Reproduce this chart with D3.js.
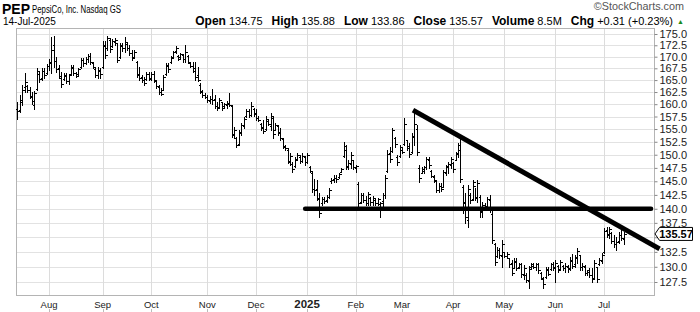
<!DOCTYPE html>
<html>
<head>
<meta charset="utf-8">
<script src="https://cdn.jsdelivr.net/npm/d3@7"></script>
<style>
  body { margin: 0; background: #fff; }
  svg { display: block; font-family: 'Liberation Sans', Arial, sans-serif; }
</style>
</head>
<body>
<div id="chart"></div>
<script>
// daily bars, 15-Jul-2024 .. 14-Jul-2025 (index 0 = first session)
const opens = [
  159.0,158.8,160.5,163.5,163.8,162.9,161.5,159.8,163.2,166.3,
  165.5,166.9,166.5,168.0,168.6,172.5,169.0,167.5,165.5,165.2,
  165.8,164.8,166.3,167.6,166.4,166.2,167.8,169.2,168.7,169.5,
  170.2,168.6,167.4,166.0,167.0,167.8,172.4,171.8,173.6,172.3,
  173.2,173.0,169.9,172.4,172.0,172.7,172.0,170.9,170.0,168.8,
  166.2,165.6,165.0,165.2,166.2,165.3,166.2,164.8,163.6,162.6,
  163.0,166.2,168.0,168.9,170.0,171.2,170.2,169.9,170.3,169.6,
  170.2,168.7,168.0,167.6,166.0,164.0,162.6,161.9,161.4,160.6,
  161.0,161.0,159.6,159.4,160.4,159.6,159.8,160.0,159.6,154.0,
  153.2,152.0,154.4,155.6,157.6,158.6,157.8,159.0,158.2,157.3,
  156.0,155.4,155.0,156.6,155.6,157.2,154.8,155.6,154.4,153.0,
  151.6,151.0,148.6,148.3,147.8,149.2,149.6,148.8,149.5,148.6,
  147.6,146.6,143.6,143.6,141.8,141.0,141.8,141.5,142.2,145.0,
  145.4,145.6,145.8,146.8,149.8,151.0,147.6,148.2,149.0,147.5,
  144.5,141.2,142.5,141.6,141.0,142.0,141.3,141.6,141.0,140.8,
  141.4,142.4,147.0,150.4,150.8,153.2,149.6,149.8,151.0,152.0,
  152.8,151.2,150.6,153.4,155.0,147.5,146.6,147.0,147.6,149.0,
  147.0,145.8,145.0,143.4,144.2,144.0,146.6,147.6,148.0,148.4,
  149.0,150.4,151.0,144.0,141.2,138.0,142.5,141.8,144.2,142.0,
  142.2,139.5,140.6,140.5,141.6,139.0,133.8,131.8,132.8,131.8,
  132.4,131.8,131.4,130.6,129.8,130.8,130.0,130.4,128.6,128.6,
  127.6,130.0,130.2,130.0,130.4,128.9,128.0,128.3,129.4,129.6,
  130.4,130.0,130.2,129.6,130.2,129.8,130.0,129.8,131.0,130.4,
  131.4,132.0,130.0,130.0,129.0,129.4,128.6,128.2,130.0,130.4,
  131.0,132.5,136.2,135.4,135.8,134.4,133.8,134.4,135.4,134.75
];
const highs = [
  160.5,161.9,164.0,166.5,164.0,163.6,162.5,162.7,167.6,166.7,
  167.6,167.6,168.4,169.5,174.3,174.6,169.9,168.2,166.7,166.5,
  166.5,166.3,168.2,168.2,166.7,167.6,169.7,169.7,169.9,170.6,
  170.8,168.9,167.8,167.8,167.6,173.5,173.5,174.6,174.1,173.9,
  174.1,173.0,173.0,173.0,174.3,173.0,172.6,171.5,171.5,169.1,
  167.8,166.1,165.6,166.7,166.7,166.7,166.9,165.0,164.0,163.4,
  166.1,168.7,168.7,170.2,171.3,172.4,170.4,170.8,170.6,172.6,
  170.4,168.9,168.9,168.9,167.8,164.4,162.9,162.3,161.9,161.7,
  163.1,161.9,160.5,161.3,160.5,160.3,160.7,162.3,159.9,155.4,
  153.4,154.8,156.2,157.4,159.0,159.0,160.5,159.2,159.0,157.6,
  156.2,156.8,157.6,156.8,158.2,157.4,156.2,155.8,155.2,153.2,
  151.9,151.3,150.3,148.6,149.6,150.3,149.9,150.3,149.8,150.3,
  147.9,146.7,145.4,145.2,142.8,142.2,142.2,142.5,143.8,145.6,
  146.2,146.2,146.5,147.5,152.5,151.9,149.0,150.5,149.0,148.1,
  144.9,142.8,142.8,142.3,143.0,142.1,142.3,141.9,141.9,141.2,
  142.8,146.2,150.9,151.5,155.2,153.4,149.9,151.9,151.3,157.2,
  152.9,152.3,154.2,158.2,155.8,148.1,147.7,147.9,149.6,149.6,
  147.1,146.2,145.2,144.7,144.7,147.1,148.1,148.6,149.6,148.6,
  150.5,152.3,153.2,144.3,142.8,144.3,142.8,145.2,143.8,145.2,
  142.5,141.2,141.0,142.1,142.5,139.8,134.0,133.3,133.2,134.5,
  132.5,132.5,131.5,131.1,131.5,131.5,130.6,130.6,130.3,129.0,
  130.1,130.6,130.6,130.6,130.6,129.1,128.3,130.0,130.0,130.6,
  130.8,131.1,130.3,131.1,130.3,130.6,130.3,131.6,132.1,132.0,
  133.2,132.0,130.6,130.3,129.5,129.8,129.8,131.1,130.0,131.5,
  132.3,136.6,136.8,136.8,135.9,135.4,135.0,135.9,136.2,135.88
];
const lows = [
  157.0,158.4,159.9,162.5,162.5,161.3,160.1,159.0,162.9,164.6,
  165.0,165.4,166.3,167.1,166.5,167.8,166.7,165.4,163.6,165.0,
  164.4,164.2,166.1,166.1,165.6,166.1,167.6,168.0,168.4,168.9,
  168.4,167.6,165.6,165.4,165.4,167.6,169.7,171.5,171.0,172.1,
  172.6,168.9,169.7,171.3,171.0,171.5,170.4,169.3,169.9,165.6,
  165.0,164.6,164.0,165.0,165.0,165.0,164.6,163.4,162.1,161.9,
  162.9,166.1,166.7,168.7,169.9,170.8,169.3,169.7,168.9,168.9,
  168.7,167.8,166.7,165.0,164.8,162.3,161.5,161.3,160.5,160.3,
  160.0,159.2,158.8,159.2,158.8,159.4,159.2,159.6,153.4,153.2,
  151.5,151.9,153.8,155.2,157.4,157.4,157.6,157.6,156.8,156.6,
  154.8,154.2,154.8,155.8,154.8,153.2,154.8,153.8,152.9,151.3,
  150.9,148.4,148.1,146.7,147.7,149.0,148.4,148.6,148.1,148.4,
  146.7,143.0,142.5,141.6,138.5,140.7,141.0,141.3,141.9,144.7,
  144.9,144.9,145.6,146.7,149.6,147.2,147.2,147.5,147.2,146.7,
  140.3,141.0,141.2,140.7,140.7,140.7,140.7,140.7,140.7,138.5,
  140.5,141.9,146.7,148.7,150.5,151.5,148.1,149.6,150.3,151.9,
  150.9,149.6,150.3,151.9,150.0,144.9,146.5,146.5,147.2,147.5,
  145.8,144.9,143.0,143.0,143.2,144.0,146.2,146.5,147.5,146.7,
  149.0,149.6,144.9,139.2,137.5,136.8,141.0,141.6,141.6,141.2,
  138.5,138.5,140.1,140.3,139.4,134.0,130.3,131.6,131.5,130.0,
  131.6,131.5,130.0,128.6,129.8,129.5,129.8,128.3,128.0,127.5,
  126.5,129.8,129.8,129.5,129.0,128.0,126.5,128.1,128.6,129.5,
  129.5,127.5,129.1,129.5,129.5,129.1,129.1,129.5,129.8,130.0,
  130.6,129.5,129.5,128.6,128.6,128.3,127.5,128.0,127.5,130.3,
  130.6,132.3,135.0,134.9,134.0,133.3,132.8,134.0,134.5,133.86
];
const closes = [
  158.7,160.9,163.0,164.5,162.9,161.7,160.6,162.3,166.9,165.3,
  167.0,166.0,168.0,168.9,171.5,169.0,167.3,165.9,164.2,166.0,
  164.8,166.0,167.8,166.5,165.9,167.3,169.3,168.6,169.6,170.2,
  168.8,167.8,166.0,167.2,166.2,172.6,170.4,174.0,171.6,173.5,
  173.6,169.3,172.6,171.8,173.2,172.0,170.8,169.8,171.0,166.0,
  165.5,165.0,164.4,166.3,165.4,166.2,165.0,163.7,162.5,162.1,
  165.6,168.2,167.4,169.8,171.0,172.0,169.6,170.5,169.5,171.0,
  168.9,168.1,167.0,165.6,165.0,162.7,161.8,161.5,160.8,161.0,
  160.9,159.6,159.2,160.8,159.2,160.0,160.2,159.8,153.8,154.8,
  151.9,154.3,155.8,157.0,158.6,157.8,159.6,158.0,157.2,156.8,
  155.2,154.6,157.0,156.0,157.6,154.0,155.8,154.2,153.2,151.5,
  151.2,148.8,149.8,147.2,149.0,150.0,148.8,149.8,148.6,150.0,
  147.0,143.6,143.4,142.0,139.3,141.8,141.4,142.2,143.4,145.3,
  145.6,145.4,146.3,147.3,151.6,147.8,148.4,150.0,147.6,147.8,
  141.0,142.4,141.6,141.0,142.6,141.2,142.0,141.0,141.7,141.0,
  142.4,145.6,150.2,149.2,154.8,152.0,148.6,151.5,150.6,156.0,
  151.6,150.2,153.6,156.0,150.6,145.6,147.2,147.6,149.2,148.0,
  146.0,145.2,143.4,144.2,143.6,146.8,147.8,148.2,149.2,147.2,
  150.2,151.8,145.5,141.0,138.5,143.6,141.6,144.8,142.2,144.6,
  139.6,140.6,140.3,141.8,140.0,134.5,130.8,132.8,132.0,133.8,
  131.8,132.2,130.4,129.0,131.0,129.8,130.4,128.8,129.8,127.8,
  129.6,130.4,130.0,130.4,129.4,128.2,127.2,129.6,128.8,130.4,
  129.8,130.6,129.5,130.8,129.8,130.2,129.6,131.2,130.2,131.6,
  132.6,130.0,130.2,129.0,129.2,128.6,128.0,130.6,128.0,131.2,
  132.0,136.0,135.6,136.4,134.4,133.8,134.2,135.4,134.9,135.57
];

// first session of each month (bar index) and its label
const monthStarts = [13, 35, 55, 78, 98, 119, 139, 158, 179, 200, 221, 241];
const monthLabels = ['Aug', 'Sep', 'Oct', 'Nov', 'Dec', '2025', 'Feb', 'Mar', 'Apr', 'May', 'Jun', 'Jul'];
const priceTicks = [127.5, 130, 132.5, 135, 137.5, 140, 142.5, 145, 147.5, 150, 152.5, 155,
                    157.5, 160, 162.5, 165, 167.5, 170, 172.5, 175];

// hand drawn trend lines: [bar index, price]
const supportLine = [[118.2, 140.0], [260.3, 140.0]];
const resistanceLine = [[162.5, 158.8], [263.8, 133.0]];

const quote = [['Open', '134.75'], ['High', '135.88'], ['Low', '133.86'], ['Close', '135.57'],
               ['Volume', '8.5M'], ['Chg', '+0.31 (+0.23%)']];

const W = 700, H = 312;
const plot = { left: 16, right: 653.5, top: 28, bottom: 295 };

const bars = closes.map((c, i) => ({ i: i, o: opens[i], h: highs[i], l: lows[i], c: c }));

const x = d3.scaleLinear()
	.domain([-0.57, 261.3])
	.range([plot.left, plot.right]);

const y = d3.scaleLog()
	.domain([175, 127.5])
	.range([34, 282]);

const svg = d3.select('#chart').append('svg')
	.attr('width', W)
	.attr('height', H);

// grid
svg.append('g')
	.selectAll('line').data(priceTicks)
	.enter().append('line')
		.attr('x1', plot.left).attr('x2', plot.right)
		.attr('y1', d => Math.round(y(d)) + 0.5)
		.attr('y2', d => Math.round(y(d)) + 0.5)
		.attr('stroke', '#e2e2e2');

svg.append('g')
	.selectAll('line').data(monthStarts)
	.enter().append('line')
		.attr('x1', d => Math.round(x(d)) + 0.5)
		.attr('x2', d => Math.round(x(d)) + 0.5)
		.attr('y1', plot.top).attr('y2', plot.bottom)
		.attr('stroke', '#dcdcdc');

// frame
svg.append('rect')
	.attr('x', plot.left + 0.5).attr('y', plot.top + 0.5)
	.attr('width', Math.round(plot.right - plot.left))
	.attr('height', plot.bottom - plot.top)
	.attr('fill', 'none')
	.attr('stroke', '#b4b4b4');

// OHLC bars
const px = d => Math.round(x(d)) + 0.5;
const py = v => Math.round(y(v)) + 0.5;

const barG = svg.append('g')
	.attr('stroke', '#000')
	.attr('stroke-width', 1)
	.attr('shape-rendering', 'crispEdges');

const bar = barG.selectAll('g').data(bars).enter().append('g');
bar.append('line')
	.attr('x1', d => px(d.i)).attr('x2', d => px(d.i))
	.attr('y1', d => Math.round(y(d.h))).attr('y2', d => Math.round(y(d.l)) + 1);
bar.append('line')
	.attr('x1', d => px(d.i) - 2).attr('x2', d => px(d.i))
	.attr('y1', d => py(d.o)).attr('y2', d => py(d.o));
bar.append('line')
	.attr('x1', d => px(d.i)).attr('x2', d => px(d.i) + 2)
	.attr('y1', d => py(d.c)).attr('y2', d => py(d.c));

// trend lines
const tl = d3.line().x(d => x(d[0])).y(d => y(d[1]));
svg.append('path')
	.attr('d', tl(supportLine))
	.attr('stroke', '#000').attr('stroke-width', 4.5)
	.attr('stroke-linecap', 'round').attr('fill', 'none');
svg.append('path')
	.attr('d', tl(resistanceLine))
	.attr('stroke', '#000').attr('stroke-width', 5)
	.attr('stroke-linecap', 'butt').attr('fill', 'none');

// price axis
const last = closes[closes.length - 1];

const yAxis = d3.axisRight(y)
	.tickValues(priceTicks)
	.tickFormat(d3.format('.1f'))
	.tickSizeInner(3)
	.tickSizeOuter(0)
	.tickPadding(2);

const yg = svg.append('g')
	.attr('transform', 'translate(' + (Math.round(plot.right) + 0.5) + ',0)')
	.call(yAxis);
yg.select('.domain').remove();
yg.selectAll('line').attr('stroke', '#888');
yg.selectAll('text')
	.attr('font-size', 11)
	.attr('font-family', "'Liberation Sans', Arial, sans-serif")
	.attr('fill', '#222');
// the last-price tag sits where this label would be
yg.selectAll('.tick')
	.filter(d => Math.abs(y(d) - y(last)) < 8)
	.select('text').remove();

// month labels
const xg = svg.append('g');
xg.selectAll('text').data(monthStarts)
	.enter().append('text')
		.attr('x', d => x(d))
		.attr('y', plot.bottom + 13)
		.attr('text-anchor', 'middle')
		.attr('font-weight', (d, i) => monthLabels[i] === '2025' ? 'bold' : 'normal')
		.attr('font-size', (d, i) => monthLabels[i] === '2025' ? 11.5 : 9.5)
		.attr('fill', '#222')
		.text((d, i) => monthLabels[i]);
xg.selectAll('line').data(monthStarts)
	.enter().append('line')
		.attr('x1', d => px(d)).attr('x2', d => px(d))
		.attr('y1', H - 3).attr('y2', H)
		.attr('stroke', '#bbb');

// last price tag
const ly = y(last);
svg.append('path')
	.attr('d', 'M655,' + ly + ' L659.5,' + (ly - 6.5) + ' H692.5 V' + (ly + 6.5) + ' H659.5 Z')
	.attr('fill', '#fff')
	.attr('stroke', '#000');
svg.append('text')
	.attr('x', 676)
	.attr('y', ly + 4)
	.attr('text-anchor', 'middle')
	.attr('font-size', 11)
	.attr('font-weight', 'bold')
	.text(d3.format('.2f')(last));

// header
svg.append('text')
	.attr('x', 2).attr('y', 14)
	.attr('font-size', 14).attr('font-weight', 'bold')
	.text('PEP');
svg.append('text')
	.attr('x', 32).attr('y', 13)
	.attr('font-size', 10)
	.attr('textLength', 89)
	.attr('lengthAdjust', 'spacingAndGlyphs')
	.text('PepsiCo, Inc. Nasdaq GS');
svg.append('text')
	.attr('x', 3).attr('y', 25)
	.attr('font-size', 10)
	.text('14-Jul-2025');
svg.append('text')
	.attr('x', 684).attr('y', 10)
	.attr('text-anchor', 'end')
	.attr('font-size', 10.8)
	.attr('fill', '#555')
	.text('\u00A9StockCharts.com');

const stats = svg.append('text')
	.attr('x', 673).attr('y', 25)
	.attr('text-anchor', 'end');
quote.forEach((q, i) => {
	stats.append('tspan')
		.attr('font-weight', 'bold')
		.attr('font-size', 12)
		.attr('dx', i === 0 ? 0 : 9)
		.text(q[0]);
	stats.append('tspan')
		.attr('font-size', 11)
		.attr('dx', 3)
		.text(q[1]);
});
svg.append('text')
	.attr('x', 684).attr('y', 24)
	.attr('text-anchor', 'end')
	.attr('font-size', 7)
	.attr('fill', '#1a8a1a')
	.text('\u25B2');
</script>
</body>
</html>
